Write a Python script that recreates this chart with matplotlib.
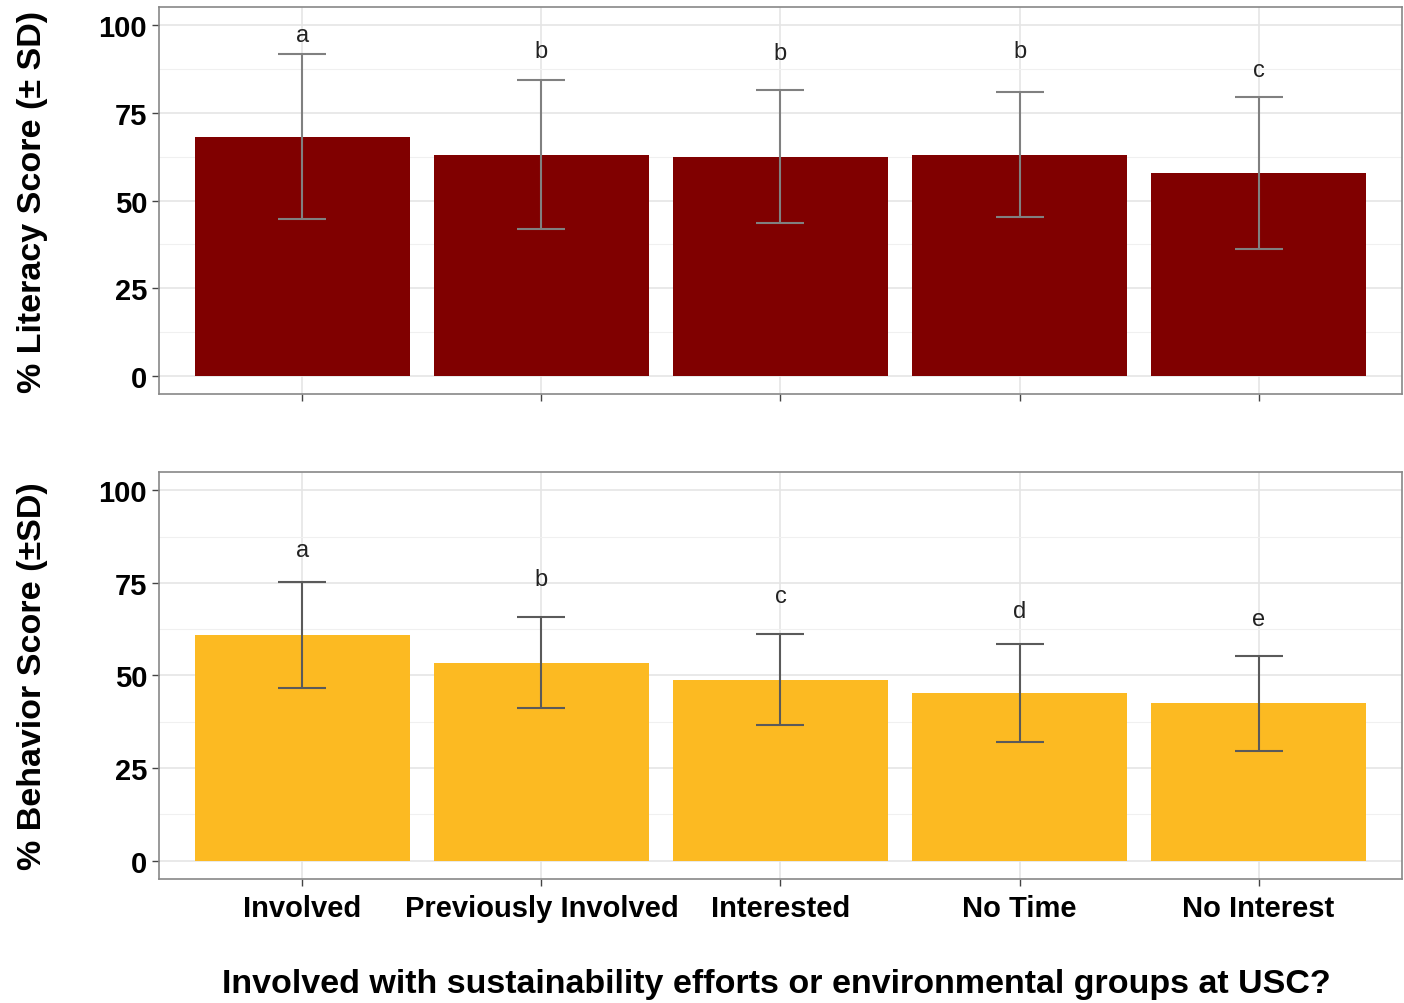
import matplotlib
matplotlib.use("Agg")
import matplotlib.pyplot as plt
import numpy as np

plt.rcParams['font.family'] = ['Liberation Sans', 'DejaVu Sans']

categories = ["Involved", "Previously Involved", "Interested", "No Time", "No Interest"]

literacy_mean = [68.1, 63.0, 62.5, 63.0, 57.9]
literacy_sd = [23.5, 21.2, 18.8, 17.8, 21.6]
literacy_letters = ["a", "b", "b", "b", "c"]
literacy_letter_y = [97.0, 92.4, 91.8, 92.6, 87.0]

behavior_mean = [61.0, 53.5, 48.9, 45.2, 42.5]
behavior_sd = [14.3, 12.2, 12.2, 13.2, 12.8]
behavior_letters = ["a", "b", "c", "d", "e"]
behavior_letter_y = [84.0, 76.2, 71.4, 67.4, 65.2]


def panel(ax, means, sds, letters, letter_y, color, ecolor, ylabel, show_xlabels):
    x = np.arange(1, len(categories) + 1)
    ax.set_axisbelow(True)
    ax.bar(x, means, width=0.9, color=color, zorder=2)
    ax.errorbar(x, means, yerr=sds, fmt='none', ecolor=ecolor, elinewidth=1.5,
                capsize=17, capthick=1.5, zorder=3)
    for xi, ly, lab in zip(x, letter_y, letters):
        ax.text(xi, ly, lab, ha='center', va='center', fontsize=17, color='#222222')
    ax.set_xlim(0.4, 5.6)
    ax.set_ylim(-5, 105)
    ax.set_yticks([0, 25, 50, 75, 100])
    ax.set_yticks([12.5, 37.5, 62.5, 87.5], minor=True)
    ax.set_xticks(x)
    if show_xlabels:
        ax.set_xticklabels(categories, fontsize=21, fontweight='bold')
    else:
        ax.set_xticklabels([])
    ax.tick_params(axis='y', labelsize=21, length=5, width=1, color='#444444')
    ax.tick_params(axis='x', length=5, width=1, color='#444444', pad=6)
    ax.tick_params(which='minor', length=0)
    for lab in ax.get_yticklabels():
        lab.set_fontweight('bold')
    ax.grid(which='major', color='#e5e5e5', linewidth=1.2)
    ax.grid(which='minor', axis='y', color='#f0f0f0', linewidth=0.8)
    for sp in ax.spines.values():
        sp.set_color('#888888')
        sp.set_linewidth(1.2)
    ax.set_ylabel(ylabel, fontsize=24.5, fontweight='bold')
    ax.yaxis.set_label_coords(-0.089, 0.5)


fig = plt.figure(figsize=(14.04, 10.04), dpi=100)
ax1 = fig.add_axes([0.1132, 0.6066, 0.8854, 0.3854])
ax2 = fig.add_axes([0.1132, 0.1235, 0.8854, 0.4054])

panel(ax1, literacy_mean, literacy_sd, literacy_letters, literacy_letter_y,
      '#800000', '#808080', '% Literacy Score (± SD)', False)
panel(ax2, behavior_mean, behavior_sd, behavior_letters, behavior_letter_y,
      '#FCBA22', '#5a5a5a', '% Behavior Score (±SD)', True)

fig.text(0.553, 0.019, "Involved with sustainability efforts or environmental groups at USC?",
         ha='center', va='center', fontsize=24.5, fontweight='bold')

fig.savefig("out.png", dpi=100)
